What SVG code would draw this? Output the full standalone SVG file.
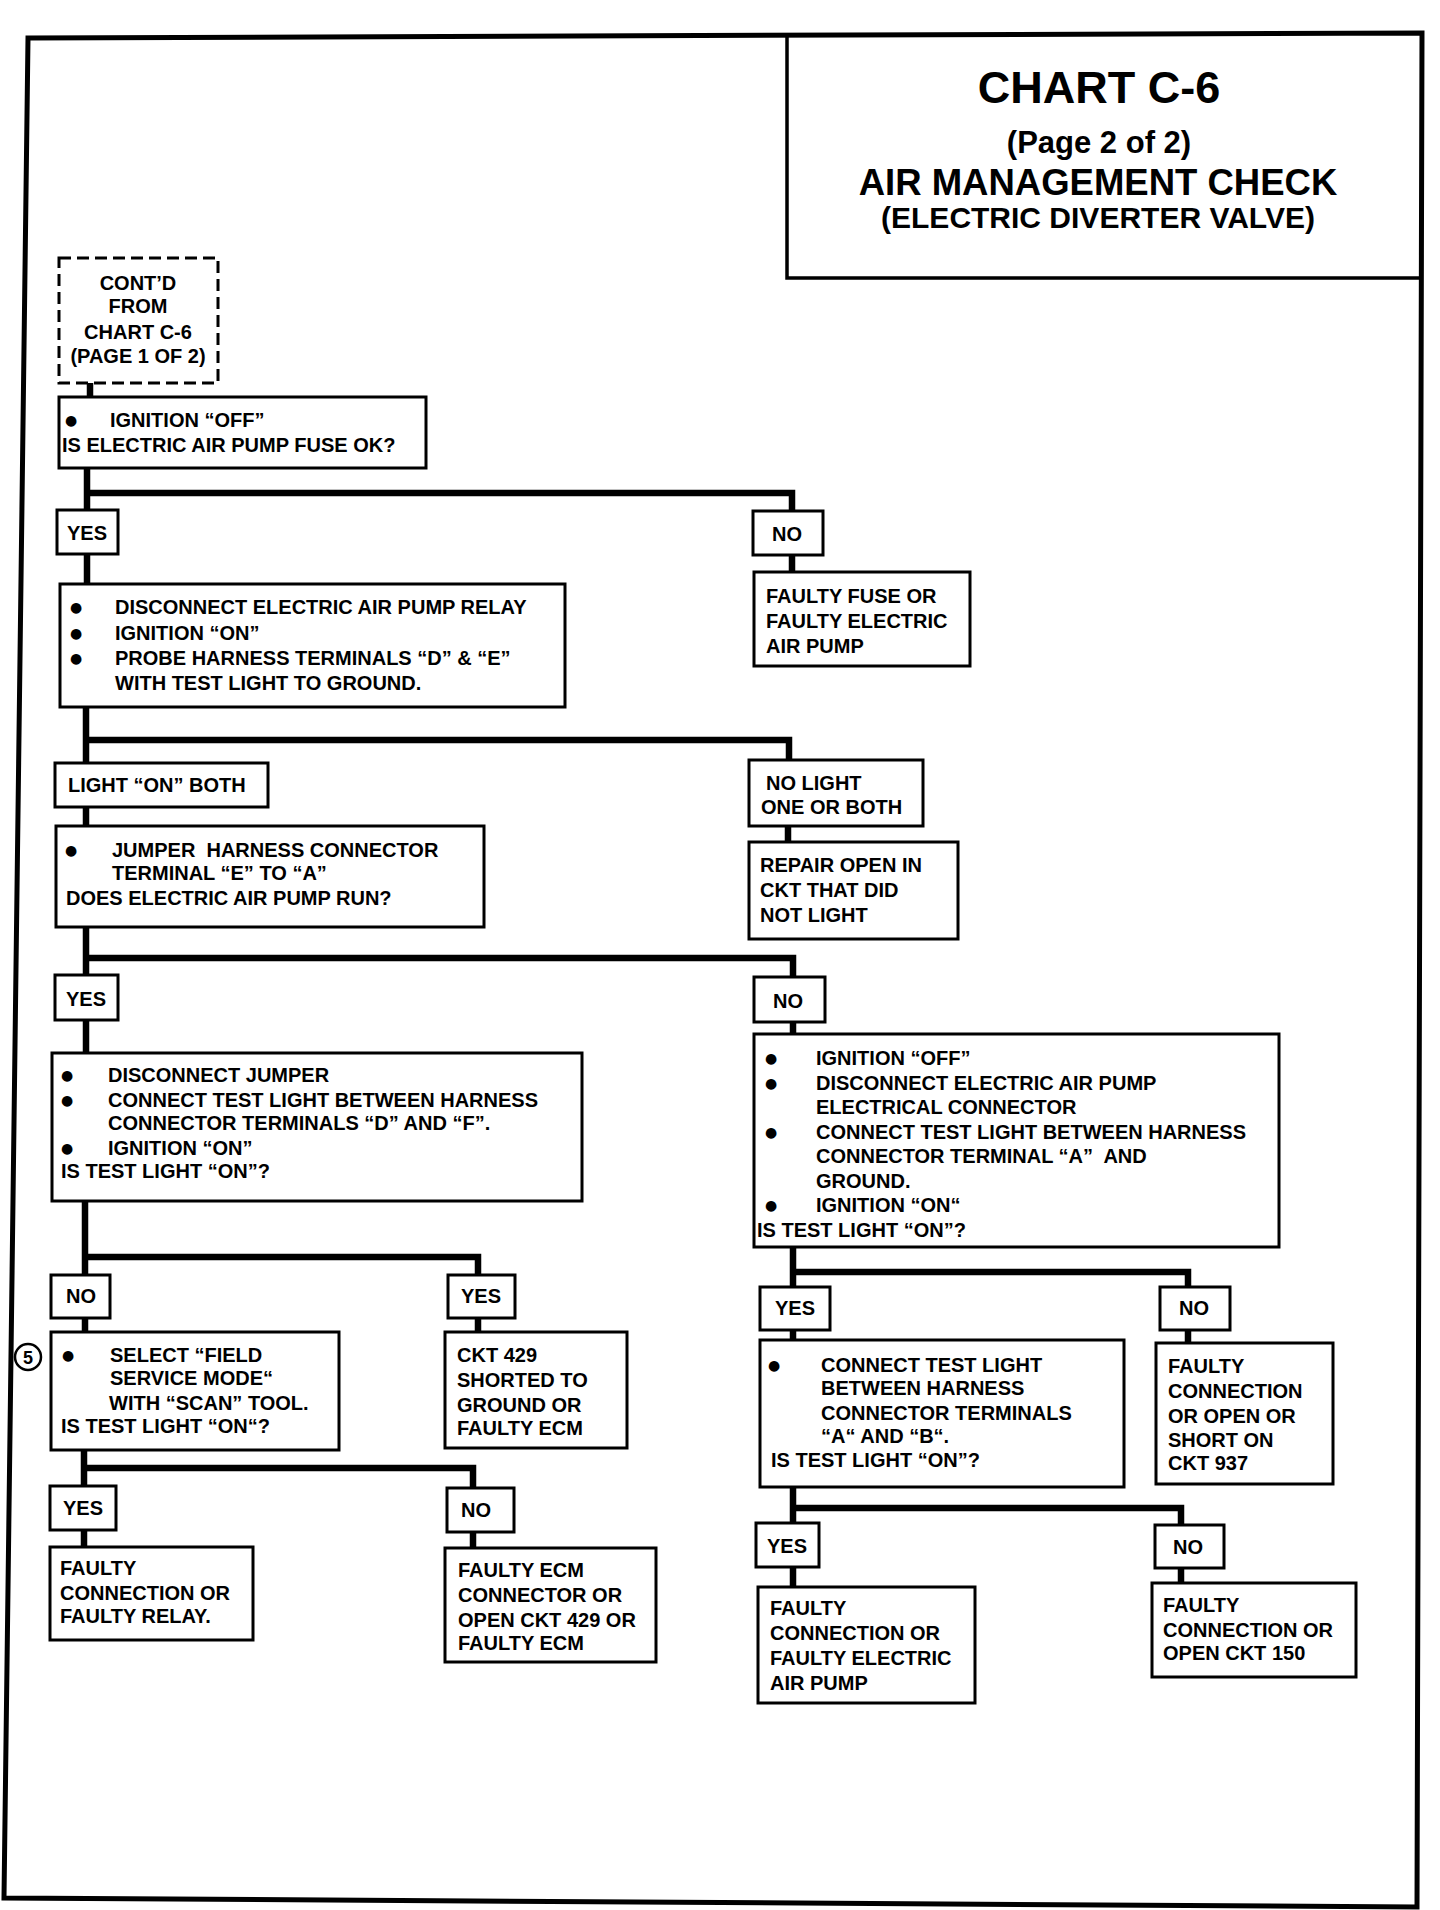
<svg xmlns="http://www.w3.org/2000/svg" width="1440" height="1910" viewBox="0 0 1440 1910">
<style>
text{font-family:"Liberation Sans",Arial,sans-serif;font-weight:bold;font-size:20px;fill:#000}
.c{text-anchor:middle}
.b{font-family:"DejaVu Sans",sans-serif;font-size:14px;text-anchor:middle}
.box{fill:#fff;stroke:#000;stroke-width:3}
.dash{fill:#fff;stroke:#000;stroke-width:3;stroke-dasharray:12 6}
.conn{fill:none;stroke:#000;stroke-width:6.5;stroke-linejoin:miter;stroke-linecap:butt}
.frame{fill:none;stroke:#000;stroke-width:5}
.t1{font-size:45px}.t2{font-size:31px}.t3{font-size:36.5px}.t4{font-size:30px}
</style>
<rect x="0" y="0" width="1440" height="1910" fill="#fff"/>
<polygon class="frame" points="28,38 1422,33 1417,1907 4,1898"/>
<g id="title">
<path d="M787,36 V278 H1421" fill="none" stroke="#000" stroke-width="3.5"/>
<text class="c t1" x="1099" y="103">CHART C-6</text>
<text class="c t2" x="1099" y="153">(Page 2 of 2)</text>
<text class="c t3" x="1098" y="195">AIR MANAGEMENT CHECK</text>
<text class="c t4" x="1098" y="228">(ELECTRIC DIVERTER VALVE)</text>
</g>
<g id="connectors">
<path class="conn" d="M90,383 V398"/>
<path class="conn" d="M87,468 V585 M87,493 H792 V512 M792,555 V573"/>
<path class="conn" d="M86,707 V827 M86,740 H789 V761 M788,826 V843"/>
<path class="conn" d="M86,927 V1054 M86,958 H793 V978 M793,1022 V1035"/>
<path class="conn" d="M85,1201 V1333 M85,1257 H478 V1333"/>
<path class="conn" d="M84,1450 V1548 M84,1468 H473 V1549"/>
<path class="conn" d="M793,1247 V1341 M793,1272 H1188 V1344"/>
<path class="conn" d="M793,1487 V1588 M793,1508 H1181 V1584"/>
</g>
<g id="n_contd">
<rect class="dash" x="59" y="258" width="159" height="125"/>
<text class="c" x="138" y="290">CONT’D</text>
<text class="c" x="138" y="313">FROM</text>
<text class="c" x="138" y="339">CHART C-6</text>
<text class="c" x="138" y="363">(PAGE 1 OF 2)</text>
</g>
<g id="n_fuse">
<rect class="box" x="59" y="397" width="367" height="71"/>
<text class="b" x="71" y="425">●</text>
<text x="110" y="427">IGNITION “OFF”</text>
<text x="62" y="452">IS ELECTRIC AIR PUMP FUSE OK?</text>
</g>
<g id="l_yes1">
<rect class="box" x="57" y="510" width="61" height="44"/>
<text class="c" x="87" y="540">YES</text>
</g>
<g id="l_no1">
<rect class="box" x="753" y="511" width="70" height="44"/>
<text class="c" x="787" y="541">NO</text>
</g>
<g id="n_relay">
<rect class="box" x="60" y="584" width="505" height="123"/>
<text class="b" x="76" y="612">●</text>
<text class="b" x="76" y="638">●</text>
<text class="b" x="76" y="663">●</text>
<text x="115" y="614">DISCONNECT ELECTRIC AIR PUMP RELAY</text>
<text x="115" y="640">IGNITION “ON”</text>
<text x="115" y="665">PROBE HARNESS TERMINALS “D” &amp; “E”</text>
<text x="115" y="690">WITH TEST LIGHT TO GROUND.</text>
</g>
<g id="n_faultyfuse">
<rect class="box" x="754" y="572" width="216" height="94"/>
<text x="766" y="603">FAULTY FUSE OR</text>
<text x="766" y="628">FAULTY ELECTRIC</text>
<text x="766" y="653">AIR PUMP</text>
</g>
<g id="l_lighton">
<rect class="box" x="55" y="763" width="213" height="44"/>
<text x="68" y="792">LIGHT “ON” BOTH</text>
</g>
<g id="l_nolight">
<rect class="box" x="749" y="760" width="174" height="66"/>
<text x="766" y="790">NO LIGHT</text>
<text x="761" y="814">ONE OR BOTH</text>
</g>
<g id="n_repair">
<rect class="box" x="749" y="842" width="209" height="97"/>
<text x="760" y="872">REPAIR OPEN IN</text>
<text x="760" y="897">CKT THAT DID</text>
<text x="760" y="922">NOT LIGHT</text>
</g>
<g id="n_jumper">
<rect class="box" x="56" y="826" width="428" height="101"/>
<text class="b" x="71" y="855">●</text>
<text x="112" y="857" xml:space="preserve">JUMPER  HARNESS CONNECTOR</text>
<text x="112" y="880">TERMINAL “E” TO “A”</text>
<text x="66" y="905">DOES ELECTRIC AIR PUMP RUN?</text>
</g>
<g id="l_yes2">
<rect class="box" x="55" y="975" width="63" height="45"/>
<text class="c" x="86" y="1006">YES</text>
</g>
<g id="l_no2">
<rect class="box" x="754" y="977" width="71" height="45"/>
<text class="c" x="788" y="1008">NO</text>
</g>
<g id="n_disconnect_jumper">
<rect class="box" x="52" y="1053" width="530" height="148"/>
<text class="b" x="67" y="1080">●</text>
<text class="b" x="67" y="1105">●</text>
<text class="b" x="67" y="1153">●</text>
<text x="108" y="1082">DISCONNECT JUMPER</text>
<text x="108" y="1107">CONNECT TEST LIGHT BETWEEN HARNESS</text>
<text x="108" y="1130">CONNECTOR TERMINALS “D” AND “F”.</text>
<text x="108" y="1155">IGNITION “ON”</text>
<text x="61" y="1178">IS TEST LIGHT “ON”?</text>
</g>
<g id="n_ignition_off">
<rect class="box" x="754" y="1034" width="525" height="213"/>
<text class="b" x="771" y="1063">●</text>
<text class="b" x="771" y="1088">●</text>
<text class="b" x="771" y="1137">●</text>
<text class="b" x="771" y="1210">●</text>
<text x="816" y="1065">IGNITION “OFF”</text>
<text x="816" y="1090">DISCONNECT ELECTRIC AIR PUMP</text>
<text x="816" y="1114">ELECTRICAL CONNECTOR</text>
<text x="816" y="1139">CONNECT TEST LIGHT BETWEEN HARNESS</text>
<text x="816" y="1163" xml:space="preserve">CONNECTOR TERMINAL “A”  AND</text>
<text x="816" y="1188">GROUND.</text>
<text x="816" y="1212">IGNITION “ON“</text>
<text x="757" y="1237">IS TEST LIGHT “ON”?</text>
</g>
<g id="l_no3">
<rect class="box" x="51" y="1275" width="59" height="43"/>
<text class="c" x="81" y="1303">NO</text>
</g>
<g id="l_yes3">
<rect class="box" x="448" y="1275" width="67" height="43"/>
<text class="c" x="481" y="1303">YES</text>
</g>
<g id="marker5">
<circle cx="28" cy="1357" r="13" fill="#fff" stroke="#000" stroke-width="2.5"/>
<text class="c" x="28" y="1364" style="font-size:18px">5</text>
</g>
<g id="n_select">
<rect class="box" x="51" y="1332" width="288" height="118"/>
<text class="b" x="68" y="1360">●</text>
<text x="110" y="1362">SELECT “FIELD</text>
<text x="110" y="1385">SERVICE MODE“</text>
<text x="109" y="1410">WITH “SCAN” TOOL.</text>
<text x="61" y="1433">IS TEST LIGHT “ON“?</text>
</g>
<g id="n_ckt429">
<rect class="box" x="445" y="1332" width="182" height="116"/>
<text x="457" y="1362">CKT 429</text>
<text x="457" y="1387">SHORTED TO</text>
<text x="457" y="1412">GROUND OR</text>
<text x="457" y="1435">FAULTY ECM</text>
</g>
<g id="l_yes4">
<rect class="box" x="50" y="1486" width="66" height="44"/>
<text class="c" x="83" y="1515">YES</text>
</g>
<g id="l_no4">
<rect class="box" x="447" y="1488" width="67" height="44"/>
<text class="c" x="476" y="1517">NO</text>
</g>
<g id="n_faulty_relay">
<rect class="box" x="50" y="1547" width="203" height="93"/>
<text x="60" y="1575">FAULTY</text>
<text x="60" y="1600">CONNECTION OR</text>
<text x="60" y="1623">FAULTY RELAY.</text>
</g>
<g id="n_faulty_ecm">
<rect class="box" x="445" y="1548" width="211" height="114"/>
<text x="458" y="1577">FAULTY ECM</text>
<text x="458" y="1602">CONNECTOR OR</text>
<text x="458" y="1627">OPEN CKT 429 OR</text>
<text x="458" y="1650">FAULTY ECM</text>
</g>
<g id="l_yes5">
<rect class="box" x="760" y="1287" width="70" height="43"/>
<text class="c" x="795" y="1315">YES</text>
</g>
<g id="l_no5">
<rect class="box" x="1160" y="1287" width="70" height="43"/>
<text class="c" x="1194" y="1315">NO</text>
</g>
<g id="n_connect_ab">
<rect class="box" x="760" y="1340" width="364" height="147"/>
<text class="b" x="774" y="1370">●</text>
<text x="821" y="1372">CONNECT TEST LIGHT</text>
<text x="821" y="1395">BETWEEN HARNESS</text>
<text x="821" y="1420">CONNECTOR TERMINALS</text>
<text x="821" y="1443">“A“ AND “B“.</text>
<text x="771" y="1467">IS TEST LIGHT “ON”?</text>
</g>
<g id="n_ckt937">
<rect class="box" x="1156" y="1343" width="177" height="141"/>
<text x="1168" y="1373">FAULTY</text>
<text x="1168" y="1398">CONNECTION</text>
<text x="1168" y="1423">OR OPEN OR</text>
<text x="1168" y="1447">SHORT ON</text>
<text x="1168" y="1470">CKT 937</text>
</g>
<g id="l_yes6">
<rect class="box" x="756" y="1523" width="63" height="44"/>
<text class="c" x="787" y="1553">YES</text>
</g>
<g id="l_no6">
<rect class="box" x="1155" y="1525" width="69" height="43"/>
<text class="c" x="1188" y="1554">NO</text>
</g>
<g id="n_faulty_pump">
<rect class="box" x="758" y="1587" width="217" height="116"/>
<text x="770" y="1615">FAULTY</text>
<text x="770" y="1640">CONNECTION OR</text>
<text x="770" y="1665">FAULTY ELECTRIC</text>
<text x="770" y="1690">AIR PUMP</text>
</g>
<g id="n_ckt150">
<rect class="box" x="1152" y="1583" width="204" height="94"/>
<text x="1163" y="1612">FAULTY</text>
<text x="1163" y="1637">CONNECTION OR</text>
<text x="1163" y="1660">OPEN CKT 150</text>
</g>
</svg>
